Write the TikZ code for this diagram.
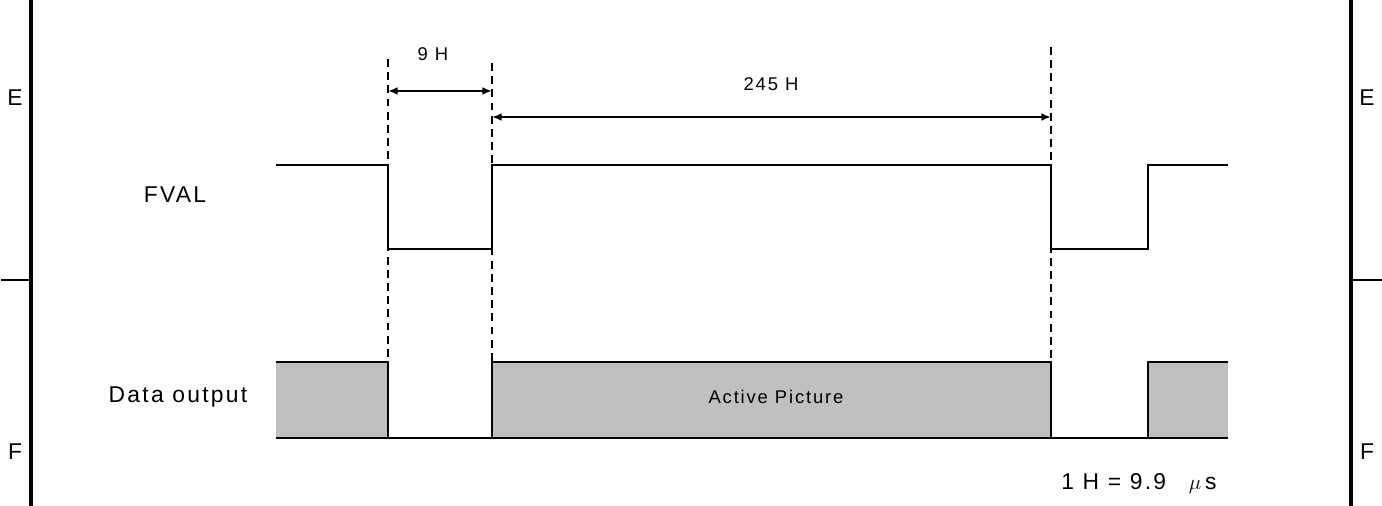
\documentclass[tikz,border=0pt]{standalone}
\usepackage{fontspec}
\setmainfont{Liberation Sans}
\newfontfamily\widesans[LetterSpace=10]{Liberation Sans}
\usetikzlibrary{arrows.meta}
\definecolor{boxgray}{RGB}{192,192,192}

\begin{document}
\begin{tikzpicture}[x=0.02cm,y=-0.02cm,
    sig/.style={line width=1.1pt},
    guide/.style={line width=1.1pt,dash pattern=on 4.5pt off 3pt},
    frame/.style={line width=2.6pt},
    dim/.style={line width=1.1pt,{Latex[length=5.5pt,width=4.5pt]}-{Latex[length=5.5pt,width=4.5pt]}},
    big/.style={font=\widesans\fontsize{13pt}{15pt}\selectfont},
    small/.style={font=\widesans\fontsize{10.5pt}{12pt}\selectfont}]
      \useasboundingbox (0,0) rectangle (1382,506);

      % frame and zone letters
      \draw[frame] (31,0) -- (31,506);
      \draw[frame] (1351,0) -- (1351,506);
      \draw[sig] (1,280) -- (31,280);
      \draw[sig] (1351,280) -- (1382,280);
      \node[big] (eL) at (15,98) {E};
      \node[big] (eR) at (1367,98) {E};
      \node[big] (fL) at (15,452) {F};
      \node[big] (fR) at (1367,452) {F};

      % signal names
      \node[big] (fval) at (175,195) {FVAL};
      \node[big] (data) at (178,397) {Data output};

      % FVAL
      \draw[sig] (276,165) -- (388,165) -- (388,249) -- (492,249) -- (492,165)
        -- (1051,165) -- (1051,249) -- (1148,249) -- (1148,165) -- (1228,165);

      % Data output
      \fill[boxgray] (276,362) rectangle (388,438);
      \fill[boxgray] (492,362) rectangle (1051,438);
      \fill[boxgray] (1148,362) rectangle (1228,438);
      \draw[sig] (276,362) -- (388,362) -- (388,438);
      \draw[sig] (492,438) -- (492,362) -- (1051,362) -- (1051,438);
      \draw[sig] (1148,438) -- (1148,362) -- (1228,362);
      \draw[sig] (276,438) -- (1228,438);
      \node[small] (active) at (776,397) {Active Picture};

      % guides
      \coordinate (g1) at (388,59);
      \coordinate (g2) at (492,63);
      \coordinate (g3) at (1051,47);
      \draw[guide] (g1) -- (388,362);
      \draw[guide] (g2) -- (492,362);
      \draw[guide] (g3) -- (1051,362);

      % widths
      \coordinate (a1) at (388,91);
      \coordinate (a2) at (492,91);
      \coordinate (b1) at (492,117);
      \coordinate (b2) at (1051,117);
      \draw[dim] (a1) -- (a2);
      \draw[dim] (b1) -- (b2);
      \node[small] (nine) at (433,54) {9 H};
      \node[small] (twofortyfive) at (771,84) {245 H};

      \node[big] (unit) at (1139,484) {1 H = 9.9\hspace{1em}$\mu$\,s};
    \end{tikzpicture}
\end{document}
